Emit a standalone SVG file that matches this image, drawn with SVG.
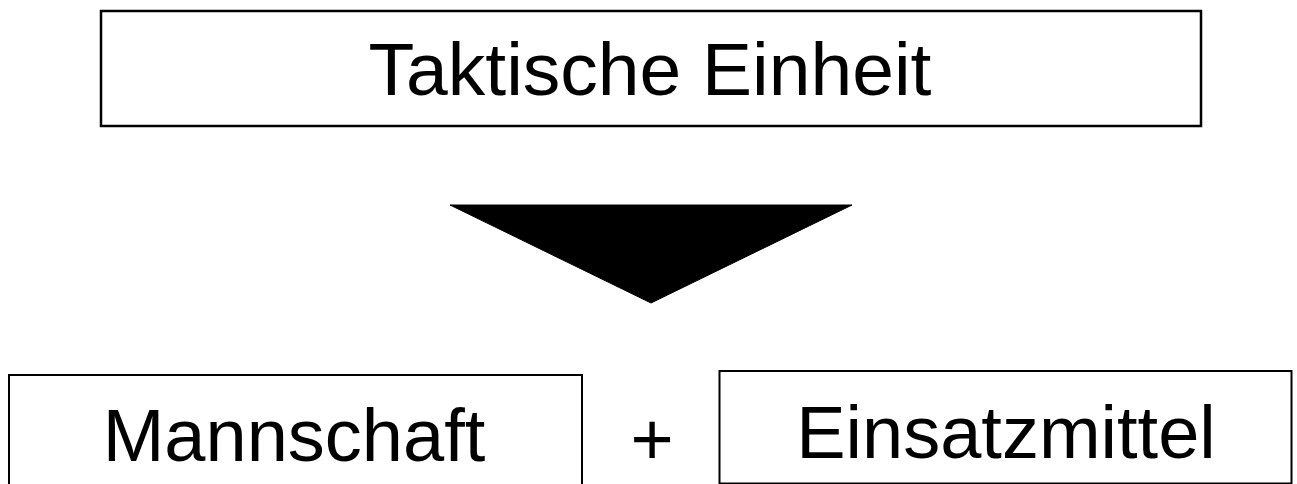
<svg xmlns="http://www.w3.org/2000/svg" width="1297" height="484" viewBox="0 0 1297 484">
<style>
.box{fill:#fff;stroke:#000;stroke-width:2.5}
.lbl{font-family:"Liberation Sans",Arial,sans-serif;font-size:74px;fill:#000;text-anchor:middle}
</style>
<rect width="1297" height="484" fill="#fff"/>
<g id="taktische-einheit">
<rect class="box" x="101" y="11" width="1100" height="115"/>
<text class="lbl" x="650" y="95" style="font-size:75px">Taktische Einheit</text>
</g>
<g id="connectors">
<polygon points="450,205 852,205 651,303" fill="#000" stroke="#000" stroke-width="1" stroke-linejoin="round"/>
</g>
<g id="mannschaft">
<rect class="box" x="9" y="375" width="573" height="130" style="stroke-width:2"/>
<text class="lbl" x="294" y="461">Mannschaft</text>
</g>
<g id="plus">
<text class="lbl" x="652" y="465">+</text>
</g>
<g id="einsatzmittel">
<rect class="box" x="719.5" y="371" width="572" height="112.5" style="stroke-width:2"/>
<text class="lbl" x="1006" y="458">Einsatzmittel</text>
</g>
</svg>
